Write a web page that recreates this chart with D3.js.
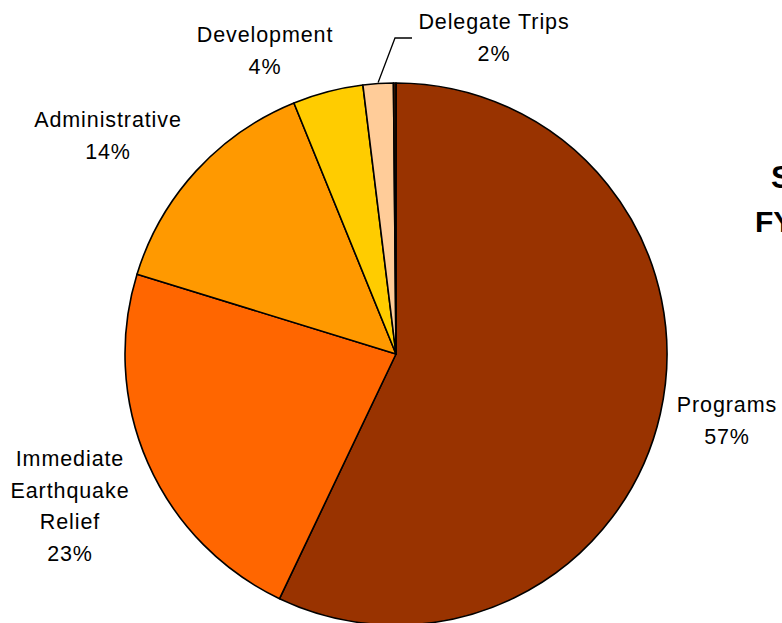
<!DOCTYPE html>
<html>
<head>
<meta charset="utf-8">
<script src="https://cdn.jsdelivr.net/npm/d3@7"></script>
<style>
html,body{margin:0;padding:0;background:#fff;overflow:hidden;}
svg{display:block;}
text{font-family:'Liberation Sans', Arial, sans-serif;}
</style>
</head>
<body>
<svg id="chart" width="782" height="623"></svg>
<script>
// Data
const categories = ["Programs", "Immediate Earthquake Relief", "Administrative", "Development", "Delegate Trips", "Other"];
const values = [57.1, 22.7, 14.1, 4.2, 1.8, 0.15];
const pctLabels = ["57%", "23%", "14%", "4%", "2%", ""];
const labelLines = [["Programs"], ["Immediate", "Earthquake", "Relief"], ["Administrative"], ["Development"], ["Delegate Trips"], []];
const titleLines = ["S", "FY"];

// Layout / style (not data)
const colors = ["#993300", "#FF6600", "#FF9900", "#FFCC00", "#FFCC99", "#4a1a00"];
const labelPos = [[727, 412], [70, 466], [108, 127], [265, 42], [494, 29], null];
const lineH = 31.5;

const svg = d3.select("#chart");
const cx = 396, cy = 354, R = 271;

const pie = d3.pie().sort(null).value(d => d);
const arc = d3.arc().innerRadius(0).outerRadius(R);

const pieData = pie(values);
const g = svg.append("g").attr("transform", `translate(${cx},${cy})`);
g.selectAll("path")
  .data(pieData)
  .join("path")
  .attr("d", arc)
  .attr("fill", (d, i) => colors[i])
  .attr("stroke", "#000")
  .attr("stroke-width", 1.6)
  .attr("stroke-linejoin", "round");

// Leader line for Delegate Trips
const dt = pieData[4];
const midA = (dt.startAngle + dt.endAngle) / 2;
const px = cx + R * Math.sin(midA), py = cy - R * Math.cos(midA);
svg.append("path")
  .attr("d", d3.line()([[px, py - 1], [395, 38], [412, 38]]))
  .attr("fill", "none")
  .attr("stroke", "#000")
  .attr("stroke-width", 1.3);

// Labels
categories.forEach((c, i) => {
  if (!labelPos[i]) return;
  const [x, y] = labelPos[i];
  const lines = labelLines[i].concat([pctLabels[i]]);
  const t = svg.append("text")
    .attr("text-anchor", "middle")
    .attr("font-size", 21.5)
    .attr("letter-spacing", 0.9)
    .attr("fill", "#000");
  lines.forEach((ln, k) => {
    t.append("tspan").attr("x", x).attr("y", y + k * lineH).text(ln);
  });
});

// Title (cut off at right edge, as in the reference)
svg.append("text")
  .attr("x", 771).attr("y", 188)
  .attr("font-weight", "bold")
  .attr("font-size", 31)
  .text(titleLines[0]);
svg.append("text")
  .attr("x", 755).attr("y", 232)
  .attr("font-weight", "bold")
  .attr("font-size", 30)
  .text(titleLines[1]);
</script>
</body>
</html>
